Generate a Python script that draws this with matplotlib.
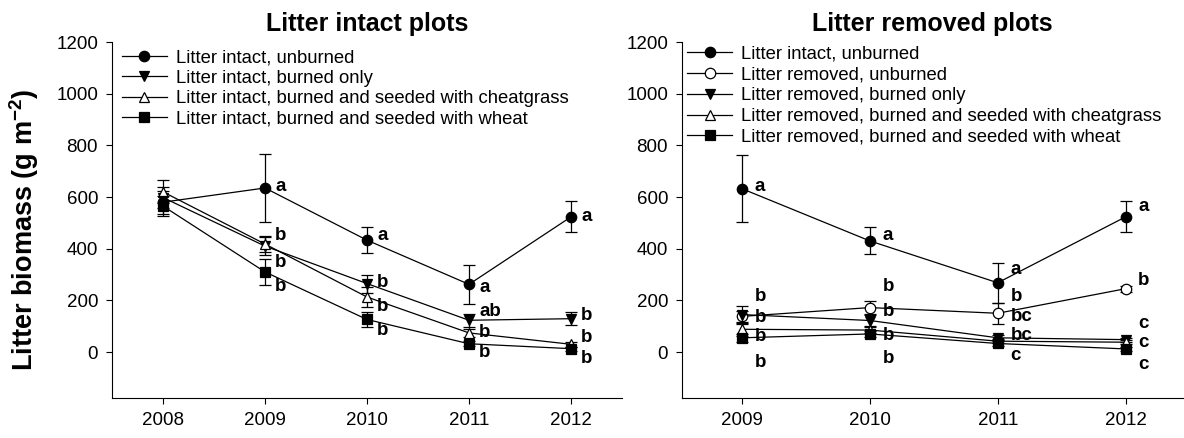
import matplotlib
matplotlib.use("Agg")
import matplotlib.pyplot as plt

plt.rcParams['font.family'] = ['Liberation Sans', 'DejaVu Sans']
plt.rcParams['mathtext.fontset'] = 'custom'
plt.rcParams['mathtext.rm'] = 'Liberation Sans'
plt.rcParams['mathtext.bf'] = 'Liberation Sans:bold'

# litter intact plots
years_intact = [2008, 2009, 2010, 2011, 2012]
intact_unburned = [580, 635, 433, 262, 523]
intact_unburned_se = [45, 130, 50, 75, 60]
intact_burned = [598, 410, 265, 123, 129]
intact_burned_se = [40, 35, 35, 25, 25]
intact_cheat = [620, 418, 213, 74, 30]
intact_cheat_se = [45, 30, 40, 15, 10]
intact_wheat = [565, 310, 126, 32, 13]
intact_wheat_se = [40, 50, 30, 10, 8]

# litter removed plots
years_removed = [2009, 2010, 2011, 2012]
ctrl_unburned = [632, 430, 268, 523]
ctrl_unburned_se = [130, 52, 77, 60]
removed_unburned = [138, 172, 150, 245]
removed_unburned_se = [20, 25, 40, 12]
removed_burned = [145, 122, 55, 48]
removed_burned_se = [35, 20, 10, 8]
removed_cheat = [88, 85, 42, 38]
removed_cheat_se = [25, 10, 8, 8]
removed_wheat = [55, 70, 33, 12]
removed_wheat_se = [15, 12, 10, 8]

# significance letters: (year, height, letter)
letters_intact = [
    (2009, 640, 'a'), (2009, 452, 'b'), (2009, 345, 'b'), (2009, 252, 'b'),
    (2010, 452, 'a'), (2010, 271, 'b'), (2010, 178, 'b'), (2010, 84, 'b'),
    (2011, 248, 'a'), (2011, 155, 'ab'), (2011, 74, 'b'), (2011, 0, 'b'),
    (2012, 523, 'a'), (2012, 142, 'b'), (2012, 58, 'b'), (2012, -26, 'b'),
]
letters_removed = [
    (2009, 640, 'a'), (2009, 215, 'b'), (2009, 135, 'b'), (2009, 62, 'b'), (2009, -41, 'b'),
    (2010, 452, 'a'), (2010, 254, 'b'), (2010, 158, 'b'), (2010, 64, 'b'), (2010, -24, 'b'),
    (2011, 318, 'a'), (2011, 215, 'b'), (2011, 138, 'bc'), (2011, 64, 'bc'), (2011, -12, 'c'),
    (2012, 562, 'a'), (2012, 276, 'b'), (2012, 109, 'c'), (2012, 36, 'c'), (2012, -47, 'c'),
]


def series(ax, x, y, se, marker, filled, label):
    ax.errorbar(x, y, yerr=se, fmt='none', ecolor='black', elinewidth=0.9,
                capsize=4, capthick=0.9)
    ax.plot(x, y, color='black', lw=0.9, marker=marker, ms=7.5,
            mfc='black' if filled else 'white', mec='black', mew=0.9,
            label=label)


def style(ax, xlim, title, anchor, spacing):
    ax.set_xlim(*xlim)
    ax.set_ylim(-178, 1200)
    ax.set_yticks(range(0, 1201, 200))
    ax.spines['top'].set_visible(False)
    ax.spines['right'].set_visible(False)
    ax.tick_params(direction='out', length=4, width=0.8, labelsize=13.5, pad=6)
    ax.set_title(title, fontsize=18, fontweight='bold', pad=8)
    ax.legend(loc='upper left', bbox_to_anchor=anchor, frameon=False,
              fontsize=13.3, handlelength=2.4, handletextpad=0.5,
              labelspacing=spacing, borderaxespad=0, borderpad=0)


fig = plt.figure(figsize=(11.84, 4.38), dpi=100)
ax1 = fig.add_axes([0.0946, 0.0913, 0.4307, 0.8128])
ax2 = fig.add_axes([0.576, 0.0913, 0.4232, 0.8128])

series(ax1, years_intact, intact_unburned, intact_unburned_se, 'o', True, 'Litter intact, unburned')
series(ax1, years_intact, intact_burned, intact_burned_se, 'v', True, 'Litter intact, burned only')
series(ax1, years_intact, intact_cheat, intact_cheat_se, '^', False, 'Litter intact, burned and seeded with cheatgrass')
series(ax1, years_intact, intact_wheat, intact_wheat_se, 's', True, 'Litter intact, burned and seeded with wheat')

series(ax2, years_removed, ctrl_unburned, ctrl_unburned_se, 'o', True, 'Litter intact, unburned')
series(ax2, years_removed, removed_unburned, removed_unburned_se, 'o', False, 'Litter removed, unburned')
series(ax2, years_removed, removed_burned, removed_burned_se, 'v', True, 'Litter removed, burned only')
series(ax2, years_removed, removed_cheat, removed_cheat_se, '^', False, 'Litter removed, burned and seeded with cheatgrass')
series(ax2, years_removed, removed_wheat, removed_wheat_se, 's', True, 'Litter removed, burned and seeded with wheat')

for yr, h, txt in letters_intact:
    ax1.text(yr + 0.1, h, txt, fontsize=13.5, fontweight='bold', va='center', ha='left')
for yr, h, txt in letters_removed:
    ax2.text(yr + 0.1, h, txt, fontsize=13.5, fontweight='bold', va='center', ha='left')

style(ax1, (2007.5, 2012.5), 'Litter intact plots', (0.02, 0.980), 0.19)
style(ax2, (2008.53, 2012.45), 'Litter removed plots', (0.011, 0.989), 0.2)
ax1.set_xticks(years_intact)
ax2.set_xticks(years_removed)

ax1.set_ylabel('Litter biomass (g m$^{\\mathbf{-2}}$)', fontsize=19.5, fontweight='bold', labelpad=11)
ax1.yaxis.label.set_y(0.472)

fig.savefig('out.png', dpi=100)
